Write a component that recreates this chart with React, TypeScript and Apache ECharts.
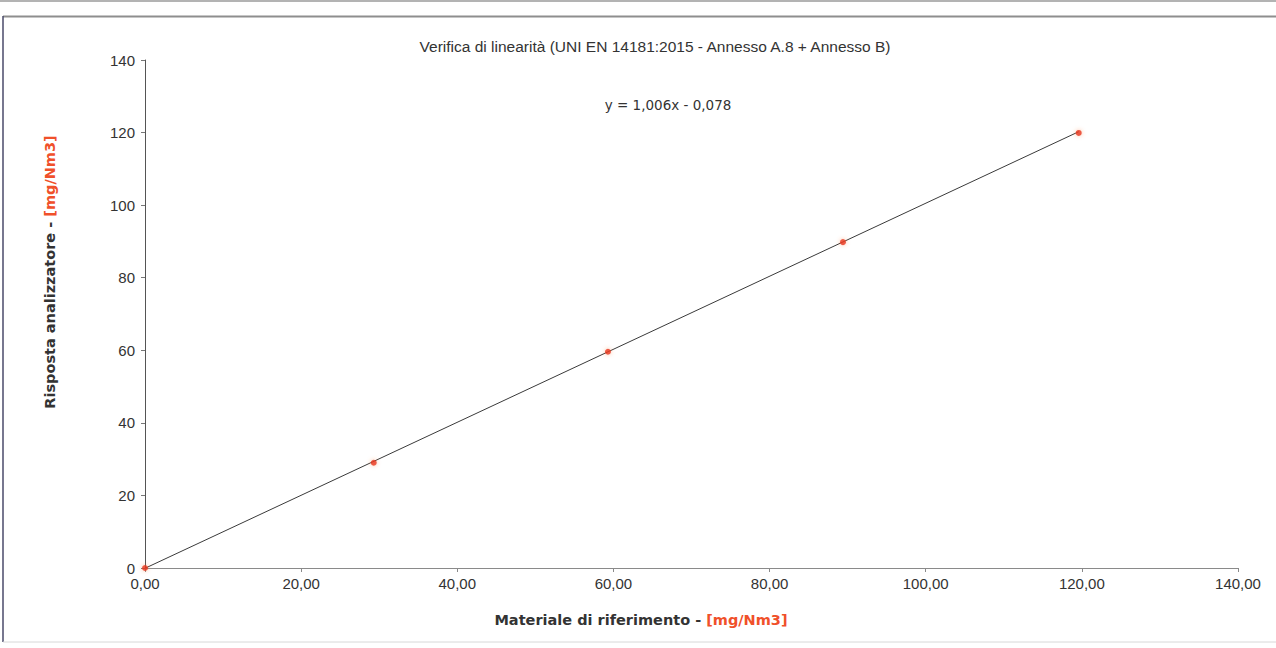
import React, { useEffect, useRef } from "react";
import * as echarts from "echarts";

const titleText = "Verifica di linearità (UNI EN 14181:2015 - Annesso A.8 + Annesso B)";
const equationText = "y = 1,006x - 0,078";
const xNameMain = "Materiale di riferimento - ";
const yNameMain = "Risposta analizzatore - ";
const unitText = "[mg/Nm3]";

const refValues = [0, 29.3, 59.3, 89.4, 119.6];
const analyzerValues = [0, 29.0, 59.6, 89.8, 119.9];

const trendX = [0, 119.6];
const trendY = [-0.08, 120.24];

export default function App() {
  const ref = useRef<HTMLDivElement>(null);
  useEffect(() => {
    if (!ref.current) return;
    const chart = echarts.init(ref.current, undefined, { renderer: "svg" });
    const labelFont = "'Liberation Sans', Arial, sans-serif";
    const boldFont = "'DejaVu Sans', Verdana, sans-serif";
    chart.setOption({
      animation: false,
      backgroundColor: "#ffffff",
      grid: { left: 145, right: 38, top: 60, bottom: 80 },
      xAxis: {
        type: "value",
        min: 0,
        max: 140,
        interval: 20,
        axisLine: { show: true, lineStyle: { color: "#8a8a8a", width: 1 } },
        axisTick: { show: true, inside: false, length: 4, lineStyle: { color: "#8a8a8a" } },
        splitLine: { show: false },
        axisLabel: {
          color: "#333",
          fontSize: 15,
          fontFamily: labelFont,
          margin: 8,
          formatter: (v: number) => v.toFixed(2).replace(".", ","),
        },
      },
      yAxis: {
        type: "value",
        min: 0,
        max: 140,
        interval: 20,
        axisLine: { show: true, lineStyle: { color: "#555", width: 1 } },
        axisTick: { show: true, inside: false, length: 4, lineStyle: { color: "#777" } },
        splitLine: { show: false },
        axisLabel: { color: "#333", fontSize: 15, fontFamily: labelFont, margin: 10 },
      },
      series: [
        {
          type: "line",
          data: trendX.map((x, i) => [x, trendY[i]]),
          symbol: "none",
          lineStyle: { color: "#3a3a3a", width: 1 },
          silent: true,
          z: 2,
        },
        {
          type: "scatter",
          data: refValues.map((x, i) => [x, analyzerValues[i]]),
          symbol: "circle",
          symbolSize: 6,
          itemStyle: { color: "#e8321e", shadowColor: "rgba(255,120,60,0.6)", shadowBlur: 4 },
          z: 3,
        },
      ],
      graphic: [
        { type: "line", shape: { x1: 0, y1: 1, x2: 1276, y2: 1 }, style: { stroke: "#9a9a9a", lineWidth: 1.5 } },
        { type: "line", shape: { x1: 3, y1: 16.5, x2: 1276, y2: 16.5 }, style: { stroke: "#8e8e8e", lineWidth: 2 } },
        { type: "line", shape: { x1: 3, y1: 16, x2: 3, y2: 642 }, style: { stroke: "#4a4a6a", lineWidth: 1.5 } },
        { type: "line", shape: { x1: 3, y1: 642, x2: 1276, y2: 642 }, style: { stroke: "#d8d8d8", lineWidth: 1 } },
        {
          type: "text",
          x: 655,
          y: 46,
          style: {
            text: titleText,
            fill: "#333",
            font: `15.5px 'Liberation Sans', Arial, sans-serif`,
            textAlign: "center",
            textVerticalAlign: "middle",
          },
        },
        {
          type: "text",
          x: 668,
          y: 105,
          style: {
            text: equationText,
            fill: "#333",
            font: `13.5px 'DejaVu Sans', Verdana, sans-serif`,
            textAlign: "center",
            textVerticalAlign: "middle",
          },
        },
        {
          type: "text",
          x: 641,
          y: 620,
          style: {
            text: `{a|${xNameMain}}{b|${unitText}}`,
            textAlign: "center",
            textVerticalAlign: "middle",
            rich: {
              a: { fontFamily: boldFont, fontWeight: "bold", fontSize: 14.5, fill: "#333" },
              b: { fontFamily: boldFont, fontWeight: "bold", fontSize: 14.5, fill: "#f0502a" },
            },
          },
        },
        {
          type: "text",
          x: 50,
          y: 272,
          rotation: Math.PI / 2,
          style: {
            text: `{a|${yNameMain}}{b|${unitText}}`,
            textAlign: "center",
            textVerticalAlign: "middle",
            rich: {
              a: { fontFamily: boldFont, fontWeight: "bold", fontSize: 14.5, fill: "#333" },
              b: { fontFamily: boldFont, fontWeight: "bold", fontSize: 14.5, fill: "#f0502a" },
            },
          },
        },
      ],
    });
    return () => chart.dispose();
  }, []);
  return (
    <div
      ref={ref}
      style={{ position: "fixed", left: 0, top: 0, width: 1276, height: 648, background: "#fff" }}
    />
  );
}
